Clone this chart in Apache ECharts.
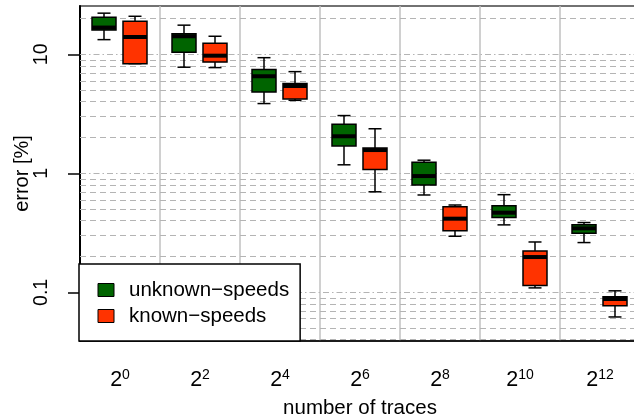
<!DOCTYPE html>
<html><head><meta charset="utf-8">
<script src="https://cdn.jsdelivr.net/npm/echarts@6/dist/echarts.min.js"></script>
<style>html,body{margin:0;padding:0;background:#fff}#c{width:634px;height:420px}</style>
</head><body><div id="c"></div>
<script>
// x categories: number of traces = 2^exponent
const exponents = ['0', '2', '4', '6', '8', '10', '12'];
// each entry: [lower whisker, Q1, median, Q3, upper whisker]  (error in %)
const unknownSpeeds = [
  [13.3, 16.0, 16.8, 20.5, 22.2],
  [7.8, 10.4, 14.2, 14.9, 17.6],
  [3.86, 4.83, 6.55, 7.45, 9.38],
  [1.18, 1.70, 2.05, 2.59, 3.06],
  [0.658, 0.797, 0.949, 1.24, 1.29],
  [0.369, 0.425, 0.467, 0.535, 0.662],
  [0.262, 0.314, 0.345, 0.369, 0.386]
];
const knownSpeeds = [
  [8.36, 8.36, 14.0, 19.0, 20.9],
  [7.74, 8.61, 9.75, 12.4, 14.2],
  [4.11, 4.22, 5.42, 5.68, 7.16],
  [0.70, 1.08, 1.57, 1.63, 2.37],
  [0.296, 0.330, 0.416, 0.525, 0.542],
  [0.109, 0.114, 0.198, 0.223, 0.265],
  [0.0621, 0.0773, 0.0879, 0.0918, 0.103]
];
const seriesNames = ['unknown\u2212speeds', 'known\u2212speeds'];
const yTickValues = [0.1, 1, 10];
const gridMantissas = [1, 2, 3, 4, 5, 6, 7, 8, 9];
const gridDecades = [0.01, 0.1, 1, 10];
const yMin = 0.039, yMax = 25.5;

const FONT = '"Liberation Sans", Arial, Helvetica, sans-serif';
const gridValues = [];
gridDecades.forEach(d => gridMantissas.forEach(m => {
  const v = +(d * m).toPrecision(6);
  if (v >= yMin && v <= yMax) gridValues.push(v);
}));
const isDecade = v => Math.abs(Math.log10(v) - Math.round(Math.log10(v))) < 1e-9;

function boxRenderer(offset) {
  return function (params, api) {
    const cat = api.value(0);
    const cx = api.coord([cat, api.value(3)])[0] + offset;
    const y = [1, 2, 3, 4, 5].map(i => api.coord([cat, api.value(i)])[1]);
    const hw = 12, cw = 6.5;
    const color = api.visual('color');
    const ls = { stroke: '#000', lineWidth: 1.5 };
    return {
      type: 'group', children: [
        { type: 'line', shape: { x1: cx, y1: y[4], x2: cx, y2: y[3] }, style: ls },
        { type: 'line', shape: { x1: cx, y1: y[0], x2: cx, y2: y[1] }, style: ls },
        { type: 'line', shape: { x1: cx - cw, y1: y[4], x2: cx + cw, y2: y[4] }, style: ls },
        { type: 'line', shape: { x1: cx - cw, y1: y[0], x2: cx + cw, y2: y[0] }, style: ls },
        { type: 'rect', shape: { x: cx - hw, y: y[3], width: 2 * hw, height: y[1] - y[3] },
          style: { fill: color, stroke: '#000', lineWidth: 1.5 } },
        { type: 'line', shape: { x1: cx - hw, y1: y[2], x2: cx + hw, y2: y[2] },
          style: { stroke: '#000', lineWidth: 4 } }
      ]
    };
  };
}

const chart = echarts.init(document.getElementById('c'), null, { renderer: 'canvas' });
chart.setOption({
  animation: false,
  backgroundColor: '#fff',
  grid: { left: 80, right: -6, top: 6, bottom: 79, show: true, borderColor: '#444', borderWidth: 1.5,
    containLabel: false, outerBoundsMode: 'none' },
  legend: {
    orient: 'vertical', left: 79, top: 264, padding: [15, 11, 14, 18.5], itemGap: 4,
    itemWidth: 16, itemHeight: 13, icon: 'rect', selectedMode: false,
    backgroundColor: '#fff', borderColor: '#000', borderWidth: 1.5, borderRadius: 0,
    itemStyle: { borderColor: '#000', borderWidth: 1 },
    textStyle: { fontSize: 20.5, color: '#000', fontFamily: FONT, lineHeight: 22, padding: [0, 0, 0, 10] },
    data: seriesNames
  },
  xAxis: {
    type: 'category', data: exponents, boundaryGap: true,
    axisLine: { lineStyle: { color: '#000', width: 1.5 } },
    axisTick: { alignWithLabel: true, length: 13, lineStyle: { color: '#000', width: 1.5 } },
    splitLine: { show: true, lineStyle: { color: '#c0c0c0', width: 1.5 } },
    axisLabel: {
      margin: 27, interval: 0,
      formatter: v => '{b|2}{s|' + v + '}',
      rich: {
        b: { fontSize: 21.5, lineHeight: 24, fontFamily: FONT, color: '#000' },
        s: { fontSize: 14, lineHeight: 11, verticalAlign: 'top', fontFamily: FONT, color: '#000' }
      }
    },
    name: 'number of traces', nameLocation: 'middle', nameGap: 57, nameMoveOverlap: false,
    nameTextStyle: { fontSize: 20.5, color: '#000', fontFamily: FONT }
  },
  yAxis: {
    type: 'log', logBase: 10, min: yMin, max: yMax,
    axisLine: { show: true, lineStyle: { color: '#000', width: 2 } },
    axisTick: { show: true, length: 12, lineStyle: { color: '#000', width: 1.5 }, customValues: yTickValues },
    axisLabel: { rotate: 90, margin: 28.5, fontSize: 19.5, color: '#000', fontFamily: FONT,
      customValues: yTickValues, formatter: v => String(+v.toPrecision(6)) },
    splitLine: { show: false },
    name: 'error [%]', nameLocation: 'middle', nameGap: 48, nameRotate: 90, nameMoveOverlap: false,
    nameTextStyle: { fontSize: 20, color: '#000', fontFamily: FONT }
  },
  series: [
    {
      type: 'line', name: 'gridlines', data: [], silent: true,
      markLine: {
        silent: true, symbol: ['none', 'none'], z: 1, animation: false,
        label: { show: false },
        lineStyle: { color: '#b4b4b4', width: 1.2 },
        emphasis: { disabled: true },
        data: gridValues.map(v => ({ yAxis: v, lineStyle: { color: '#b4b4b4', width: 1.2, type: isDecade(v) ? [6, 3, 1.5, 3] : [6, 4] } }))
      }
    },
    {
      type: 'custom', name: seriesNames[0], z: 3,
      itemStyle: { color: '#006400' },
      renderItem: boxRenderer(-16),
      encode: { x: 0, y: [1, 2, 3, 4, 5] },
      data: unknownSpeeds.map((d, i) => [i].concat(d))
    },
    {
      type: 'custom', name: seriesNames[1], z: 3,
      itemStyle: { color: '#ff3300' },
      renderItem: boxRenderer(15),
      encode: { x: 0, y: [1, 2, 3, 4, 5] },
      data: knownSpeeds.map((d, i) => [i].concat(d))
    }
  ]
});
</script></body></html>
